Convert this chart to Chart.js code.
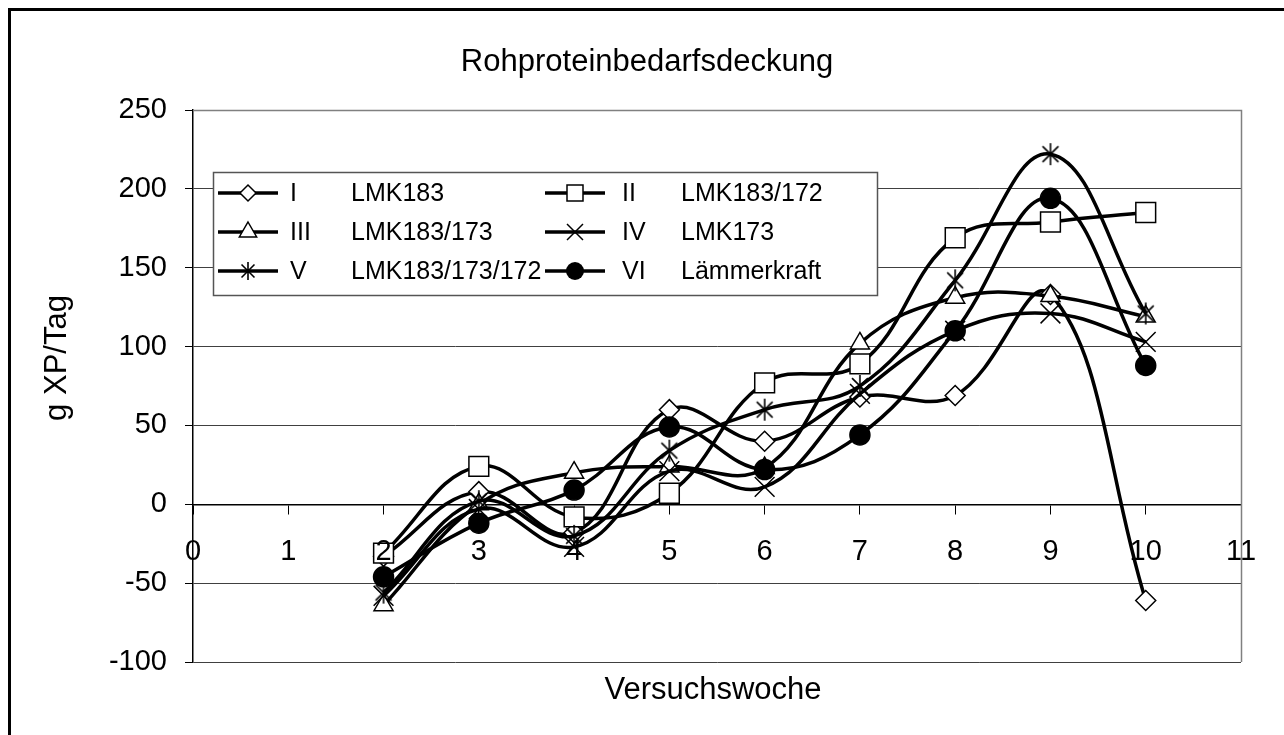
<!DOCTYPE html>
<html>
<head>
<meta charset="utf-8">
<script src="https://cdn.jsdelivr.net/npm/chart.js@4.4.0/dist/chart.umd.min.js"></script>
<style>
  html, body { margin: 0; padding: 0; background: #fff; }
  #wrap { width: 1284px; height: 735px; }
</style>
</head>
<body>
<div id="wrap"><canvas id="chart" width="1284" height="735"></canvas></div>
<script>
// Data
const weeks = [2, 3, 4, 5, 6, 7, 8, 9, 10];
const groups = ['I', 'II', 'III', 'IV', 'V', 'VI'];
const names = ['LMK183', 'LMK183/172', 'LMK183/173', 'LMK173', 'LMK183/173/172', 'Lämmerkraft'];
const seriesI   = [-33,   8, -18, 60, 40,  68,  69, 133, -61];
const seriesII  = [-31,  24,  -8,  7, 77,  89, 169, 179, 185];
const seriesIII = [-64,   0,  20, 24, 23, 102, 131, 132, 119];
const seriesIV  = [-58,  -3, -27, 21, 11,  70, 110, 121, 103];
const seriesV   = [-56,   2, -20, 34, 60,  75, 142, 222, 121];
const seriesVI  = [-46, -12,   9, 49, 22,  44, 110, 194,  88];
const allSeries = [seriesI, seriesII, seriesIII, seriesIV, seriesV, seriesVI];

const yMin = -100, yMax = 250, yStep = 50;
const xMin = 0, xMax = 11, xStep = 1;

const chartTitle = 'Rohproteinbedarfsdeckung';
const xTitle = 'Versuchswoche';
const yTitle = 'g XP/Tag';

const FONT = '"Liberation Sans", Arial, sans-serif';

// asterisk marker (vertical + X), like the Excel star
function makeStar(r) {
  const c = document.createElement('canvas');
  c.width = c.height = 2 * r + 4;
  const g = c.getContext('2d');
  const m = r + 2, d = r * 0.72;
  g.strokeStyle = '#000';
  g.lineWidth = 1.6;
  g.beginPath();
  g.moveTo(m, m - r); g.lineTo(m, m + r);
  g.moveTo(m - d, m - d); g.lineTo(m + d, m + d);
  g.moveTo(m + d, m - d); g.lineTo(m - d, m + d);
  g.stroke();
  return c;
}
const starPlot = makeStar(11);
const starLegend = makeStar(9);

const markers = [
  { style: 'rectRot',   radius: 10, fill: '#fff' },
  { style: 'rect',      radius: 14, fill: '#fff' },
  { style: 'triangle',  radius: 11, fill: '#fff' },
  { style: 'crossRot',  radius: 14, fill: '#fff' },
  { style: starPlot,    radius: 11, fill: '#fff' },
  { style: 'circle',    radius: 10, fill: '#000' },
];

const datasets = allSeries.map((vals, i) => ({
  label: groups[i] + ' ' + names[i],
  data: weeks.map((w, j) => ({ x: w, y: vals[j] })),
  borderColor: '#000',
  borderWidth: 3.5,
  tension: 0.4,
  fill: false,
  pointStyle: markers[i].style,
  pointRadius: markers[i].radius,
  pointBackgroundColor: markers[i].fill,
  pointBorderColor: '#000',
  pointBorderWidth: 1.5,
  order: 6 - i,
}));

// legend marker drawing
function legendMarker(ctx, i, x, y) {
  ctx.save();
  ctx.strokeStyle = '#000';
  ctx.fillStyle = markers[i].fill;
  ctx.lineWidth = 1.5;
  ctx.beginPath();
  if (i === 0) {
    const r = 8;
    ctx.moveTo(x - r, y); ctx.lineTo(x, y - r); ctx.lineTo(x + r, y); ctx.lineTo(x, y + r); ctx.closePath();
    ctx.fill(); ctx.stroke();
  } else if (i === 1) {
    const s = 8;
    ctx.rect(x - s, y - s, 2 * s, 2 * s);
    ctx.fill(); ctx.stroke();
  } else if (i === 2) {
    const r = 10;
    ctx.moveTo(x, y - r); ctx.lineTo(x + r * 0.866, y + r / 2); ctx.lineTo(x - r * 0.866, y + r / 2); ctx.closePath();
    ctx.fill(); ctx.stroke();
  } else if (i === 3) {
    const d = 8;
    ctx.moveTo(x - d, y - d); ctx.lineTo(x + d, y + d);
    ctx.moveTo(x + d, y - d); ctx.lineTo(x - d, y + d);
    ctx.stroke();
  } else if (i === 4) {
    ctx.drawImage(starLegend, x - starLegend.width / 2, y - starLegend.height / 2);
  } else {
    ctx.arc(x, y, 9, 0, Math.PI * 2);
    ctx.fillStyle = '#000';
    ctx.fill();
  }
  ctx.restore();
}

const decor = {
  id: 'decor',
  beforeDraw(chart) {
    const ctx = chart.ctx;
    ctx.save();
    ctx.fillStyle = '#fff';
    ctx.fillRect(0, 0, chart.width, chart.height);
    ctx.restore();
  },
  afterDraw(chart) {
    const ctx = chart.ctx;
    const a = chart.chartArea;
    ctx.save();
    // plot area border
    ctx.strokeStyle = '#808080';
    ctx.lineWidth = 1.5;
    ctx.beginPath();
    ctx.moveTo(a.left, a.top + 0.5);
    ctx.lineTo(a.right + 0.5, a.top + 0.5);
    ctx.lineTo(a.right + 0.5, a.bottom);
    ctx.stroke();
    // outer frame
    ctx.strokeStyle = '#000';
    ctx.lineWidth = 3;
    ctx.strokeRect(9.5, 9.5, chart.width + 20, chart.height + 20);
    // titles
    ctx.fillStyle = '#000';
    ctx.textAlign = 'center';
    ctx.textBaseline = 'middle';
    ctx.font = '31px ' + FONT;
    ctx.fillText(chartTitle, 647, 62);
    ctx.fillText(xTitle, 713, 690);
    ctx.translate(57, 358);
    ctx.rotate(-Math.PI / 2);
    ctx.fillText(yTitle, 0, 0);
    ctx.restore();

    // legend
    ctx.save();
    const bx = 213, by = 172, bw = 664, bh = 123;
    ctx.fillStyle = '#fff';
    ctx.fillRect(bx, by, bw, bh);
    ctx.strokeStyle = '#555';
    ctx.lineWidth = 1.5;
    ctx.strokeRect(bx + 0.5, by + 0.5, bw, bh);
    const rowY = [193, 232, 271];
    const colLine = [218, 545];
    const colNum = [290, 622];
    const colName = [351, 681];
    ctx.font = '25px ' + FONT;
    ctx.textBaseline = 'middle';
    ctx.textAlign = 'left';
    for (let i = 0; i < groups.length; i++) {
      const col = i % 2, row = Math.floor(i / 2);
      const y = rowY[row];
      ctx.strokeStyle = '#000';
      ctx.lineWidth = 3.5;
      ctx.beginPath();
      ctx.moveTo(colLine[col], y);
      ctx.lineTo(colLine[col] + 60, y);
      ctx.stroke();
      legendMarker(ctx, i, colLine[col] + 30, y);
      ctx.fillStyle = '#000';
      ctx.fillText(groups[i], colNum[col], y + 1);
      ctx.fillText(names[i], colName[col], y + 1);
    }
    ctx.restore();
  }
};

new Chart(document.getElementById('chart').getContext('2d'), {
  type: 'line',
  data: { datasets: datasets },
  options: {
    responsive: false,
    animation: false,
    devicePixelRatio: 1,
    layout: { padding: { top: 110, right: 43, bottom: 73, left: 0 } },
    scales: {
      x: {
        type: 'linear',
        min: xMin,
        max: xMax,
        position: { y: 0 },
        ticks: { stepSize: xStep, color: '#000', font: { size: 29, family: FONT }, padding: 21, maxRotation: 0, z: 1 },
        grid: { drawOnChartArea: false, drawTicks: true, tickLength: 9, tickColor: '#000', tickWidth: 1 },
        border: { display: true, color: '#000', width: 1.5 },
      },
      y: {
        min: yMin,
        max: yMax,
        afterFit(scale) { scale.width = 193; },
        ticks: { stepSize: yStep, color: '#000', font: { size: 29, family: FONT }, padding: 18 },
        grid: { color: '#404040', lineWidth: 1, drawTicks: true, tickLength: 8, tickColor: '#000' },
        border: { display: true, color: '#000', width: 1.5 },
      }
    },
    plugins: {
      legend: { display: false },
      title: { display: false },
      tooltip: { enabled: false },
    }
  },
  plugins: [decor]
});
</script>
</body>
</html>
